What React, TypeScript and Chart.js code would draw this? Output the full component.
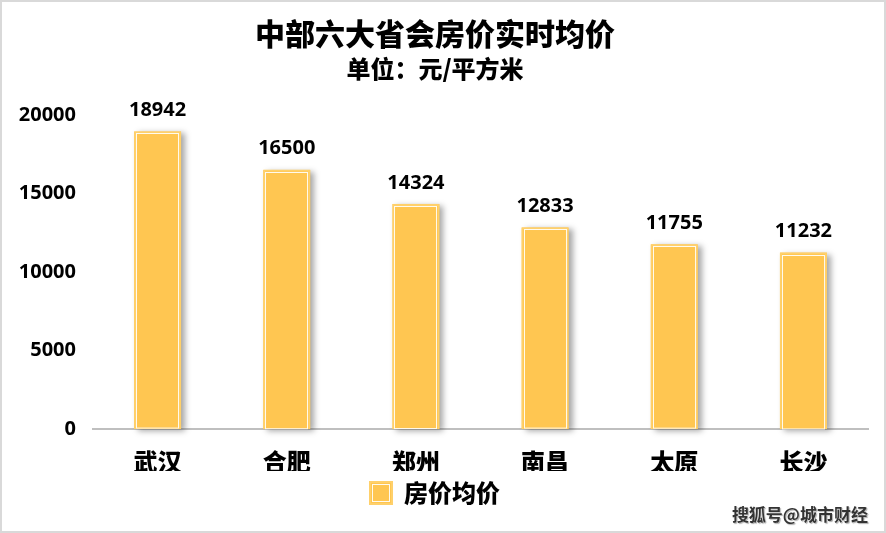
import React, { useEffect, useRef } from "react";
import { Chart, registerables } from "chart.js";

Chart.register(...registerables);

const categories = ["武汉", "合肥", "郑州", "南昌", "太原", "长沙"];
const seriesName = "房价均价";
const values = [18942, 16500, 14324, 12833, 11755, 11232];
const yTicks = [0, 5000, 10000, 15000, 20000];
const titleText = "中部六大省会房价实时均价";
const subtitleText = "单位：元/平方米";
const watermark = "搜狐号@城市财经";

const CJK = '"Noto Sans CJK SC", "Noto Sans", sans-serif';
const NUM = '"Noto Sans", "Open Sans", sans-serif';
const BAR = "#FFC651";
const BAR_BORDER = "#FFD06A";

const shadowPlugin = {
  id: "barShadow",
  beforeDatasetsDraw(chart: any) {
    const ctx = chart.ctx;
    const meta = chart.getDatasetMeta(0);
    ctx.save();
    ctx.shadowColor = "rgba(0,0,0,0.35)";
    ctx.shadowBlur = 6;
    ctx.shadowOffsetX = 4;
    ctx.shadowOffsetY = 2;
    ctx.fillStyle = BAR;
    meta.data.forEach((el: any) => {
      const { x, y, base, width } = el.getProps(["x", "y", "base", "width"], true);
      ctx.fillRect(x - width / 2, y, width, base - y);
    });
    ctx.restore();
  },
  afterDatasetsDraw(chart: any) {
    const ctx = chart.ctx;
    const meta = chart.getDatasetMeta(0);
    ctx.save();
    ctx.strokeStyle = "rgba(255,255,255,0.9)";
    ctx.lineWidth = 1;
    meta.data.forEach((el: any, i: number) => {
      const { x, y, base, width } = el.getProps(["x", "y", "base", "width"], true);
      ctx.strokeRect(Math.round(x - width / 2) + 2.5, Math.round(y) + 2.5, width - 5, base - y - 3);
      ctx.fillStyle = "#000";
      ctx.font = `bold 20px ${NUM}`;
      ctx.textAlign = "center";
      ctx.textBaseline = "middle";
      ctx.fillText(String(values[i]), x, y - 21);
    });
    ctx.restore();
  },
  afterDraw(chart: any) {
    const ctx = chart.ctx;
    const boxes = chart.legend && chart.legend.legendHitBoxes;
    if (!boxes) return;
    ctx.save();
    ctx.strokeStyle = "rgba(255,255,255,0.9)";
    ctx.lineWidth = 1;
    boxes.forEach((b: any) => {
      const bx = Math.round(b.left) + 2.5;
      const by = Math.round(b.top + (b.height - 22) / 2) + 2.5;
      ctx.strokeRect(bx, by, 17, 17);
    });
    ctx.restore();
  },
};

export default function App() {
  const ref = useRef<HTMLCanvasElement>(null);
  useEffect(() => {
    document.body.style.margin = "0";
    const chart = new Chart(ref.current!, {
      type: "bar",
      data: {
        labels: categories,
        datasets: [
          {
            label: seriesName,
            data: values,
            backgroundColor: BAR,
            borderColor: BAR_BORDER,
            borderWidth: 2,
            barPercentage: 1,
            categoryPercentage: 0.364,
          },
        ],
      },
      options: {
        animation: false,
        responsive: false,
        maintainAspectRatio: false,
        layout: { padding: { top: 0, right: 16, bottom: 16, left: 0 } },
        plugins: {
          title: {
            display: true,
            text: titleText,
            color: "#000",
            font: { family: CJK, size: 30, weight: "900" },
            padding: { top: 14, bottom: 0 },
          },
          subtitle: {
            display: true,
            text: subtitleText,
            color: "#000",
            font: { family: CJK, size: 24, weight: "900" },
            padding: { top: 2, bottom: 32 },
          },
          legend: {
            position: "bottom",
            labels: {
              color: "#000",
              font: { family: CJK, size: 24, weight: "900" },
              boxWidth: 22,
              boxHeight: 22,
              padding: 10,
            },
          },
          tooltip: { enabled: false },
        },
        scales: {
          x: {
            grid: { display: false, drawTicks: false },
            border: { display: true, color: "#BFBFBF", width: 2 },
            ticks: {
              color: "#000",
              font: { family: CJK, size: 24, weight: "900" },
              padding: 18,
            },
            afterFit(scale: any) {
              scale.height = 42;
            },
          },
          y: {
            min: yTicks[0],
            max: yTicks[yTicks.length - 1],
            grid: { display: false, drawTicks: false },
            border: { display: false },
            ticks: {
              stepSize: yTicks[1] - yTicks[0],
              color: "#000",
              font: { family: NUM, size: 20, weight: "bold" },
              padding: 17,
              callback: (v: any) => String(v),
            },
            afterFit(scale: any) {
              scale.width = 91;
            },
          },
        },
      } as any,
      plugins: [shadowPlugin],
    });
    return () => chart.destroy();
  }, []);

  return (
    <div
      style={{
        position: "fixed",
        left: 0,
        top: 0,
        width: 886,
        height: 533,
        boxSizing: "border-box",
        border: "2px solid #D9D9D9",
        background: "#fff",
      }}
    >
      <canvas ref={ref} width={882} height={529} style={{ display: "block", width: 882, height: 529 }} />
      <div
        style={{
          position: "absolute",
          right: 16,
          bottom: 7,
          fontFamily: CJK,
          fontSize: 17,
          fontWeight: "bold",
          color: "#333",
          textShadow: "0 0 2px #fff, 1px 1px 1px #999",
          whiteSpace: "nowrap",
          lineHeight: "20px",
        }}
      >
        {watermark}
      </div>
    </div>
  );
}
